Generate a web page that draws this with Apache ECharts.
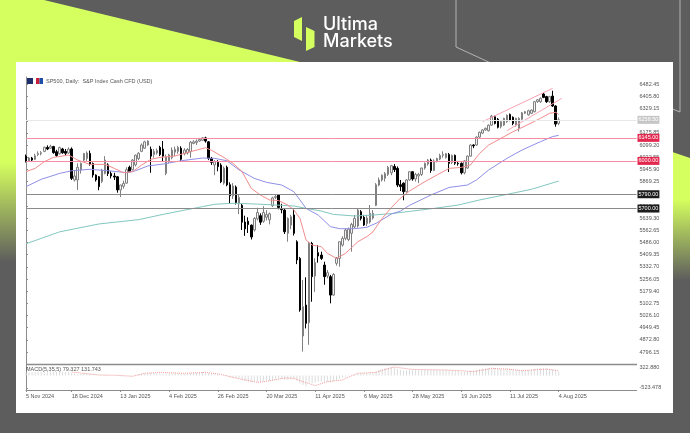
<!DOCTYPE html>
<html>
<head>
<meta charset="utf-8">
<title>SP500 Daily</title>
<script src="https://cdn.jsdelivr.net/npm/echarts@6/dist/echarts.min.js"></script>
<style>
  html, body { margin: 0; padding: 0; background: #5d5d5d; }
  #chart { width: 690px; height: 433px; filter: blur(0.35px); }
</style>
</head>
<body>
<div id="chart"></div>
<script>
// candles, one row = 10 bars
const opens = [
  6030,6000,6018,6010,6040,6045,6060,6085,6080,6090,
  6058,6045,6075,6060,6050,6075,5880,5880,5942,6005,
  6015,6047,5984,5911,5900,5870,5921,5975,5921,5905,
  5900,5817,5840,5860,5960,5945,5975,6015,6060,6080,
  6100,6073,6040,6050,6085,6075,5921,6000,6020,6055,
  6060,6080,6045,6050,6058,6110,6115,6125,6130,6145,
  6120,6016,5975,5991,5974,5860,5960,5850,5780,5835,
  5730,5720,5615,5620,5595,5565,5635,5655,5620,5645,
  5630,5718,5770,5785,5695,5690,5544,5595,5660,5491,
  5386,4897,5092,4981,5481,5275,5422,5407,5344,5275,
  5271,5155,5355,5386,5470,5512,5505,5544,5585,5590,
  5680,5645,5605,5615,5640,5720,5848,5880,5890,5915,
  5925,5965,5953,5850,5860,5806,5880,5932,5886,5905,
  5915,5955,5980,6005,5940,6000,6012,6035,6020,6040,
  5990,6035,5985,5985,5925,5955,6030,6100,6100,6150,
  6175,6195,6190,6225,6278,6262,6215,6226,6247,6293,
  6275,6226,6205,6262,6300,6290,6300,6310,6373,6373,
  6421,6405,6373,6408,6346,6236
];
const closes = [
  5998,6018,6005,6032,6047,6052,6086,6075,6092,6052,
  6034,6084,6051,6048,6074,5890,5905,5960,5985,6047,
  6050,5980,5911,5880,5838,5942,6005,5921,5905,5898,
  5817,5848,5858,5945,5932,6005,6036,6048,6100,6120,
  6125,6030,6060,6065,6040,6030,6026,6037,6068,6073,
  6085,6010,6068,6072,6118,6120,6125,6135,6145,6125,
  6016,5991,5995,5964,5869,5954,5849,5780,5842,5738,
  5770,5614,5572,5599,5521,5638,5675,5614,5675,5662,
  5667,5767,5776,5707,5693,5554,5638,5648,5544,5376,
  5061,5082,4977,5481,5271,5361,5401,5386,5271,5296,
  5155,5285,5387,5491,5512,5565,5570,5600,5638,5690,
  5638,5596,5640,5670,5670,5850,5880,5910,5920,5960,
  5970,5945,5848,5838,5806,5880,5932,5886,5915,5915,
  5955,5985,6005,5940,6000,6015,6035,6040,6045,5985,
  6035,5985,5982,5925,6000,6030,6100,6095,6150,6180,
  6195,6205,6225,6282,6236,6212,6247,6268,6288,6257,
  6236,6268,6268,6303,6310,6316,6320,6373,6385,6394,
  6400,6373,6405,6346,6232,6258.5
];
const lows = [
  5990,5995,5995,6005,6030,6035,6055,6068,6075,6045,
  6025,6040,6045,6035,6045,5880,5870,5817,5920,5995,
  6000,5970,5895,5870,5815,5860,5915,5905,5890,5880,
  5800,5773,5825,5855,5928,5940,5965,6005,6055,6075,
  6095,5925,6020,6040,6030,5995,5910,5985,6010,6030,
  6045,5995,6035,6040,6020,6105,6100,6120,6125,6115,
  6005,5975,5910,5935,5860,5850,5840,5735,5760,5725,
  5665,5565,5528,5546,5505,5555,5625,5597,5610,5625,
  5600,5710,5760,5695,5670,5540,5491,5570,5530,5350,
  5050,4799,4945,4842,5113,5175,5359,5376,5220,5260,
  5103,5150,5340,5334,5460,5500,5495,5428,5575,5580,
  5625,5590,5590,5605,5630,5715,5840,5870,5870,5905,
  5910,5930,5835,5810,5752,5800,5875,5875,5870,5860,
  5905,5945,5970,5925,5935,5990,6005,6020,6015,5930,
  5980,5975,5970,5915,5915,5950,6025,6080,6095,6145,
  6170,6190,6185,6220,6230,6205,6205,6220,6240,6250,
  6225,6215,6185,6255,6295,6285,6295,6305,6365,6365,
  6395,6365,6365,6340,6215,6225
];
const highs = [
  6040,6025,6025,6045,6060,6062,6090,6098,6102,6095,
  6070,6090,6082,6075,6085,6085,5940,5985,5990,6050,
  6060,6065,5990,5915,5905,5950,6030,5985,5935,5925,
  5905,5850,5875,5960,5970,6012,6040,6055,6110,6127,
  6130,6090,6075,6078,6095,6125,6040,6045,6085,6090,
  6095,6092,6080,6080,6125,6130,6135,6145,6150,6152,
  6125,6025,6005,6005,5985,5965,5970,5865,5860,5845,
  5785,5730,5655,5645,5600,5645,5705,5670,5715,5690,
  5675,5775,5790,5790,5730,5700,5645,5660,5695,5500,
  5395,5250,5267,5490,5490,5387,5470,5428,5365,5313,
  5282,5293,5395,5495,5525,5575,5580,5610,5660,5700,
  5690,5660,5660,5722,5690,5860,5895,5915,5930,5968,
  5975,5980,5965,5880,5865,5885,5935,5935,5925,5925,
  5958,5990,6012,6015,6010,6020,6045,6060,6050,6050,
  6040,6040,6000,5990,6005,6035,6105,6105,6155,6185,
  6200,6210,6230,6290,6285,6270,6250,6272,6292,6298,
  6280,6272,6275,6308,6315,6322,6325,6378,6390,6400,
  6428,6410,6410,6442,6350,6274
];

// moving averages: [bar, price]
const maRed = [[0,5932],[3,5953],[6,5995],[9,6022],[14,6037],[17,6005],[21,5978],[26,5978],[29,5953],[32,5926],[35,5932],[38,5974],[41,6010],[44,6022],[49,6031],[54,6058],[59,6083],[61,6066],[65,6022],[68,5985],[71,5932],[74,5827],[77,5785],[80,5754],[83,5750],[86,5722],[88,5691],[90,5638],[92,5502],[94,5470],[97,5460],[99,5418],[102,5386],[105,5418],[109,5491],[112,5523],[114,5554],[117,5638],[120,5705],[123,5765],[126,5810],[131,5869],[135,5911],[139,5953],[143,5959],[146,5974],[149,6047],[152,6100],[156,6142],[160,6184],[164,6220],[169,6268],[172,6300],[174,6306],[175,6293]];
const maBlue = [[0,5838],[5,5884],[11,5921],[15,5938],[21,5947],[27,5938],[33,5926],[36,5938],[40,5968],[45,5980],[51,6001],[58,6018],[62,6016],[66,6001],[70,5943],[75,5890],[79,5865],[84,5848],[88,5806],[90,5754],[92,5701],[96,5659],[100,5586],[103,5573],[108,5573],[112,5582],[115,5607],[120,5665],[123,5684],[126,5720],[133,5785],[139,5833],[145,5848],[148,5880],[152,5943],[158,6016],[163,6069],[169,6121],[173,6153],[175,6161]];
const maTeal = [[0,5478],[11,5553],[24,5603],[37,5630],[44,5659],[51,5686],[58,5712],[62,5727],[68,5733],[75,5729],[82,5722],[88,5716],[92,5701],[97,5684],[101,5663],[108,5653],[114,5659],[120,5668],[126,5682],[134,5701],[142,5722],[149,5754],[157,5785],[166,5821],[175,5873]];

// rising channel
const channelUpper = [[150,6247],[173,6457]];
const channelLower = [[158,6190],[176,6394]];

// horizontal levels
const redLevels = [6145, 6000];
const blackLevels = [5790, 5700];
const lastPrice = 6258.5;

// MACD pane
const macdHist = [
  120,125,130,135,145,150,160,165,170,160,
  150,155,150,145,150,90,70,55,60,75,
  85,70,40,20,5,10,25,20,10,0,
  -25,-35,-35,-15,-10,5,25,45,70,90,
  110,95,95,90,85,70,75,75,80,85,
  85,65,70,75,100,105,115,125,135,125,
  95,70,50,35,0,-5,-40,-75,-85,-110,
  -130,-185,-230,-260,-290,-280,-270,-265,-250,-245,
  -235,-190,-160,-155,-155,-190,-190,-170,-160,-220,
  -340,-400,-450,-300,-330,-300,-260,-250,-270,-260,
  -290,-240,-190,-130,-85,-50,-20,10,40,80,
  90,85,90,95,95,175,230,265,290,320,
  335,325,280,240,200,215,240,230,230,225,
  235,250,255,230,240,240,240,240,240,215,
  215,200,185,150,160,175,205,215,240,265,
  285,295,305,325,305,280,265,265,275,260,
  240,230,220,235,240,240,240,270,285,300,
  300,290,280,260,190,170
];
const macdSignal = [[15,142],[21,58],[24,17],[30,3],[35,-38],[39,84],[44,126],[52,84],[59,126],[64,42],[68,-84],[71,-167],[76,-289],[79,-250],[85,-108],[88,-122],[91,-262],[95,-426],[99,-262],[104,-192],[105,-122],[109,84],[115,126],[118,250],[121,347],[127,250],[138,222],[143,195],[147,153],[153,292],[158,264],[163,195],[171,264],[175,195]];

// axis ticks
const priceTicks = [6482.45,6405.80,6329.15,6252.50,6175.85,6099.20,6022.55,5945.90,5869.25,5792.60,5715.95,5639.30,5562.65,5486.00,5409.35,5332.70,5256.05,5179.40,5102.75,5026.10,4949.45,4872.80,4796.15];
const macdTicks = [322.880, -523.478];
const dateBars = [0,15,31,47,63,79,95,111,127,143,159,175];
const dateLabels = ['5 Nov 2024','18 Dec 2024','13 Jan 2025','4 Feb 2025','26 Feb 2025','20 Mar 2025','11 Apr 2025','6 May 2025','28 May 2025','19 Jun 2025','11 Jul 2025','4 Aug 2025'];

const LIME = '#d5ff5e';
const GREY = '#5d5d5d';
const FONT = '"Liberation Sans", sans-serif';
const barMax = 200.56;

const chart = echarts.init(document.getElementById('chart'), null, { renderer: 'canvas' });

function levelLine(value, color, labelBg, labelColor) {
    return {
        yAxis: value,
        lineStyle: { color: color, width: 1, type: 'solid' },
        label: {
            show: true,
            position: 'end',
            distance: 1,
            formatter: value.toFixed(2),
            color: labelColor,
            backgroundColor: labelBg,
            fontFamily: FONT,
            fontSize: 5.5,
            padding: [1, 1, 1, 1]
        }
    };
}

const levels = [
    levelLine(lastPrice, '#e8e8e8', '#c6c6c6', '#ffffff'),
    ...redLevels.map(v => levelLine(v, '#f58ea2', '#e3284f', '#ffffff')),
    ...blackLevels.map(v => levelLine(v, '#8a8a8a', '#1c1c1c', '#ffffff'))
];

function lineSeries(data, color, name) {
    return {
        name: name,
        type: 'line',
        xAxisIndex: 0,
        yAxisIndex: 0,
        data: data,
        showSymbol: false,
        silent: true,
        z: 4,
        lineStyle: { color: color, width: 1 }
    };
}

const option = {
    animation: false,
    backgroundColor: GREY,
    graphic: [
        { type: 'polygon', z: -20, silent: true,
          shape: { points: [[0, 0], [44, 0], [300, 62], [310, 65], [310, 262], [0, 262]] },
          style: { fill: new echarts.graphic.LinearGradient(0, 0, 0, 262, [
              { offset: 0, color: LIME }, { offset: 0.62, color: LIME }, { offset: 1, color: GREY }
          ], true) } },
        { type: 'polygon', z: -20, silent: true,
          shape: { points: [[640, 141], [690, 158], [690, 280], [640, 280]] },
          style: { fill: new echarts.graphic.LinearGradient(0, 141, 0, 280, [
              { offset: 0, color: LIME }, { offset: 0.42, color: LIME }, { offset: 1, color: GREY }
          ], true) } },
        { type: 'polyline', z: -19, silent: true,
          shape: { points: [[456, 0], [456, 47], [532, 82]] },
          style: { stroke: '#b4b4b4', lineWidth: 1, fill: null } },
        { type: 'polyline', z: -19, silent: true,
          shape: { points: [[680, 0], [680, 112], [670, 108]] },
          style: { stroke: '#b4b4b4', lineWidth: 1, fill: null } },
        { type: 'rect', z: -15, silent: true,
          shape: { x: 16, y: 62, width: 657, height: 351 },
          style: { fill: '#ffffff' } },
        // logo
        { type: 'polygon', z: -10, silent: true,
          shape: { points: [[294, 21], [302, 17], [302, 41], [294, 37]] }, style: { fill: LIME } },
        { type: 'polygon', z: -10, silent: true,
          shape: { points: [[306, 27], [314.5, 31], [314.5, 47], [306, 51]] }, style: { fill: LIME } },
        { type: 'text', z: -10, silent: true, x: 323, y: 16,
          style: { text: 'Ultima', fill: '#ffffff', font: '500 18px Inter, sans-serif' } },
        { type: 'text', z: -10, silent: true, x: 323, y: 33,
          style: { text: 'Markets', fill: '#ffffff', font: '500 18px Inter, sans-serif' } },
        // chart title
        { type: 'rect', z: -10, silent: true, shape: { x: 26, y: 78, width: 7, height: 6 }, style: { fill: '#1e2f6b' } },
        { type: 'rect', z: -10, silent: true, shape: { x: 36, y: 78, width: 3.5, height: 6 }, style: { fill: '#c9203a' } },
        { type: 'rect', z: -10, silent: true, shape: { x: 39.5, y: 78, width: 3.5, height: 6 }, style: { fill: '#1e4fa8' } },
        { type: 'text', z: -10, silent: true, x: 46, y: 78,
          style: { text: 'SP500, Daily:  S&P Index Cash CFD (USD)', fill: '#555555', font: '5.5px ' + FONT } },
        { type: 'text', z: 20, silent: true, x: 26, y: 366,
          style: { text: 'MACD(5,35,5) 79.327 131.743', fill: '#555555', font: '5.5px ' + FONT } },
        // separator between the price pane and the MACD pane
        { type: 'line', z: 20, silent: true,
          shape: { x1: 26, y1: 364.5, x2: 637, y2: 364.5 },
          style: { stroke: '#8c8c8c', lineWidth: 1.5 } }
    ],
    grid: [
        { left: 26, width: 610.5, top: 77, height: 287 },
        { left: 26, width: 610.5, top: 365, height: 25 }
    ],
    xAxis: [
        { type: 'value', gridIndex: 0, min: 0, max: barMax, show: false, splitLine: { show: false } },
        {
            type: 'value', gridIndex: 1, min: 0, max: barMax,
            splitLine: { show: false },
            axisLine: { show: true, onZero: false, lineStyle: { color: '#8c8c8c', width: 1 } },
            axisTick: { show: true, customValues: dateBars, length: 2, lineStyle: { color: '#8c8c8c' } },
            axisLabel: {
                customValues: dateBars,
                align: 'left',
                margin: 3,
                color: '#555555',
                fontFamily: FONT,
                fontSize: 5.5,
                formatter: v => dateLabels[dateBars.indexOf(v)] || ''
            }
        }
    ],
    yAxis: [
        {
            type: 'value', gridIndex: 0, position: 'right',
            min: 4720.9, max: 6528.4,
            splitLine: { show: false },
            axisLine: { show: true, lineStyle: { color: '#8c8c8c', width: 1 } },
            axisTick: { show: true, customValues: priceTicks, length: 2, lineStyle: { color: '#8c8c8c' } },
            axisLabel: {
                customValues: priceTicks,
                margin: 3,
                color: '#555555',
                fontFamily: FONT,
                fontSize: 5.5,
                formatter: v => v.toFixed(2)
            }
        },
        {
            type: 'value', gridIndex: 1, position: 'right',
            min: -609, max: 433,
            splitLine: { show: false },
            axisLine: { show: true, lineStyle: { color: '#8c8c8c', width: 1 } },
            axisTick: { show: true, customValues: macdTicks, length: 2, lineStyle: { color: '#8c8c8c' } },
            axisLabel: {
                customValues: macdTicks,
                margin: 3,
                color: '#555555',
                fontFamily: FONT,
                fontSize: 5.5,
                formatter: v => v.toFixed(3)
            }
        }
    ],
    series: [
        {
            name: 'levels',
            type: 'line',
            xAxisIndex: 0,
            yAxisIndex: 0,
            data: [],
            silent: true,
            z: 1,
            markLine: { symbol: 'none', silent: true, animation: false, data: levels }
        },
        lineSeries(maTeal, '#83c7bf', 'MA200'),
        lineSeries(maBlue, '#8f8fe6', 'MA50'),
        {
            name: 'SP500',
            type: 'candlestick',
            xAxisIndex: 0,
            yAxisIndex: 0,
            barWidth: 2,
            z: 3,
            encode: { x: 0, y: [1, 2, 3, 4] },
            data: opens.map((o, i) => [i, o, closes[i], lows[i], highs[i]]),
            itemStyle: {
                color: '#f4f4f4',
                color0: '#000000',
                borderColor: '#808080',
                borderColor0: '#000000',
                borderWidth: 1
            }
        },
        lineSeries(maRed, '#f28c8c', 'MA20'),
        lineSeries(channelUpper, '#f7a3b4', 'channel upper'),
        lineSeries(channelLower, '#f7a3b4', 'channel lower'),
        {
            name: 'MACD',
            type: 'bar',
            xAxisIndex: 1,
            yAxisIndex: 1,
            barWidth: 1,
            data: macdHist.map((v, i) => [i, v]),
            itemStyle: { color: '#dcdcdc' }
        },
        {
            name: 'Signal',
            type: 'line',
            xAxisIndex: 1,
            yAxisIndex: 1,
            data: macdSignal,
            showSymbol: false,
            z: 4,
            lineStyle: { color: '#f29a9a', width: 1, type: 'dotted' }
        }
    ]
};

chart.setOption(option);
</script>
</body>
</html>
